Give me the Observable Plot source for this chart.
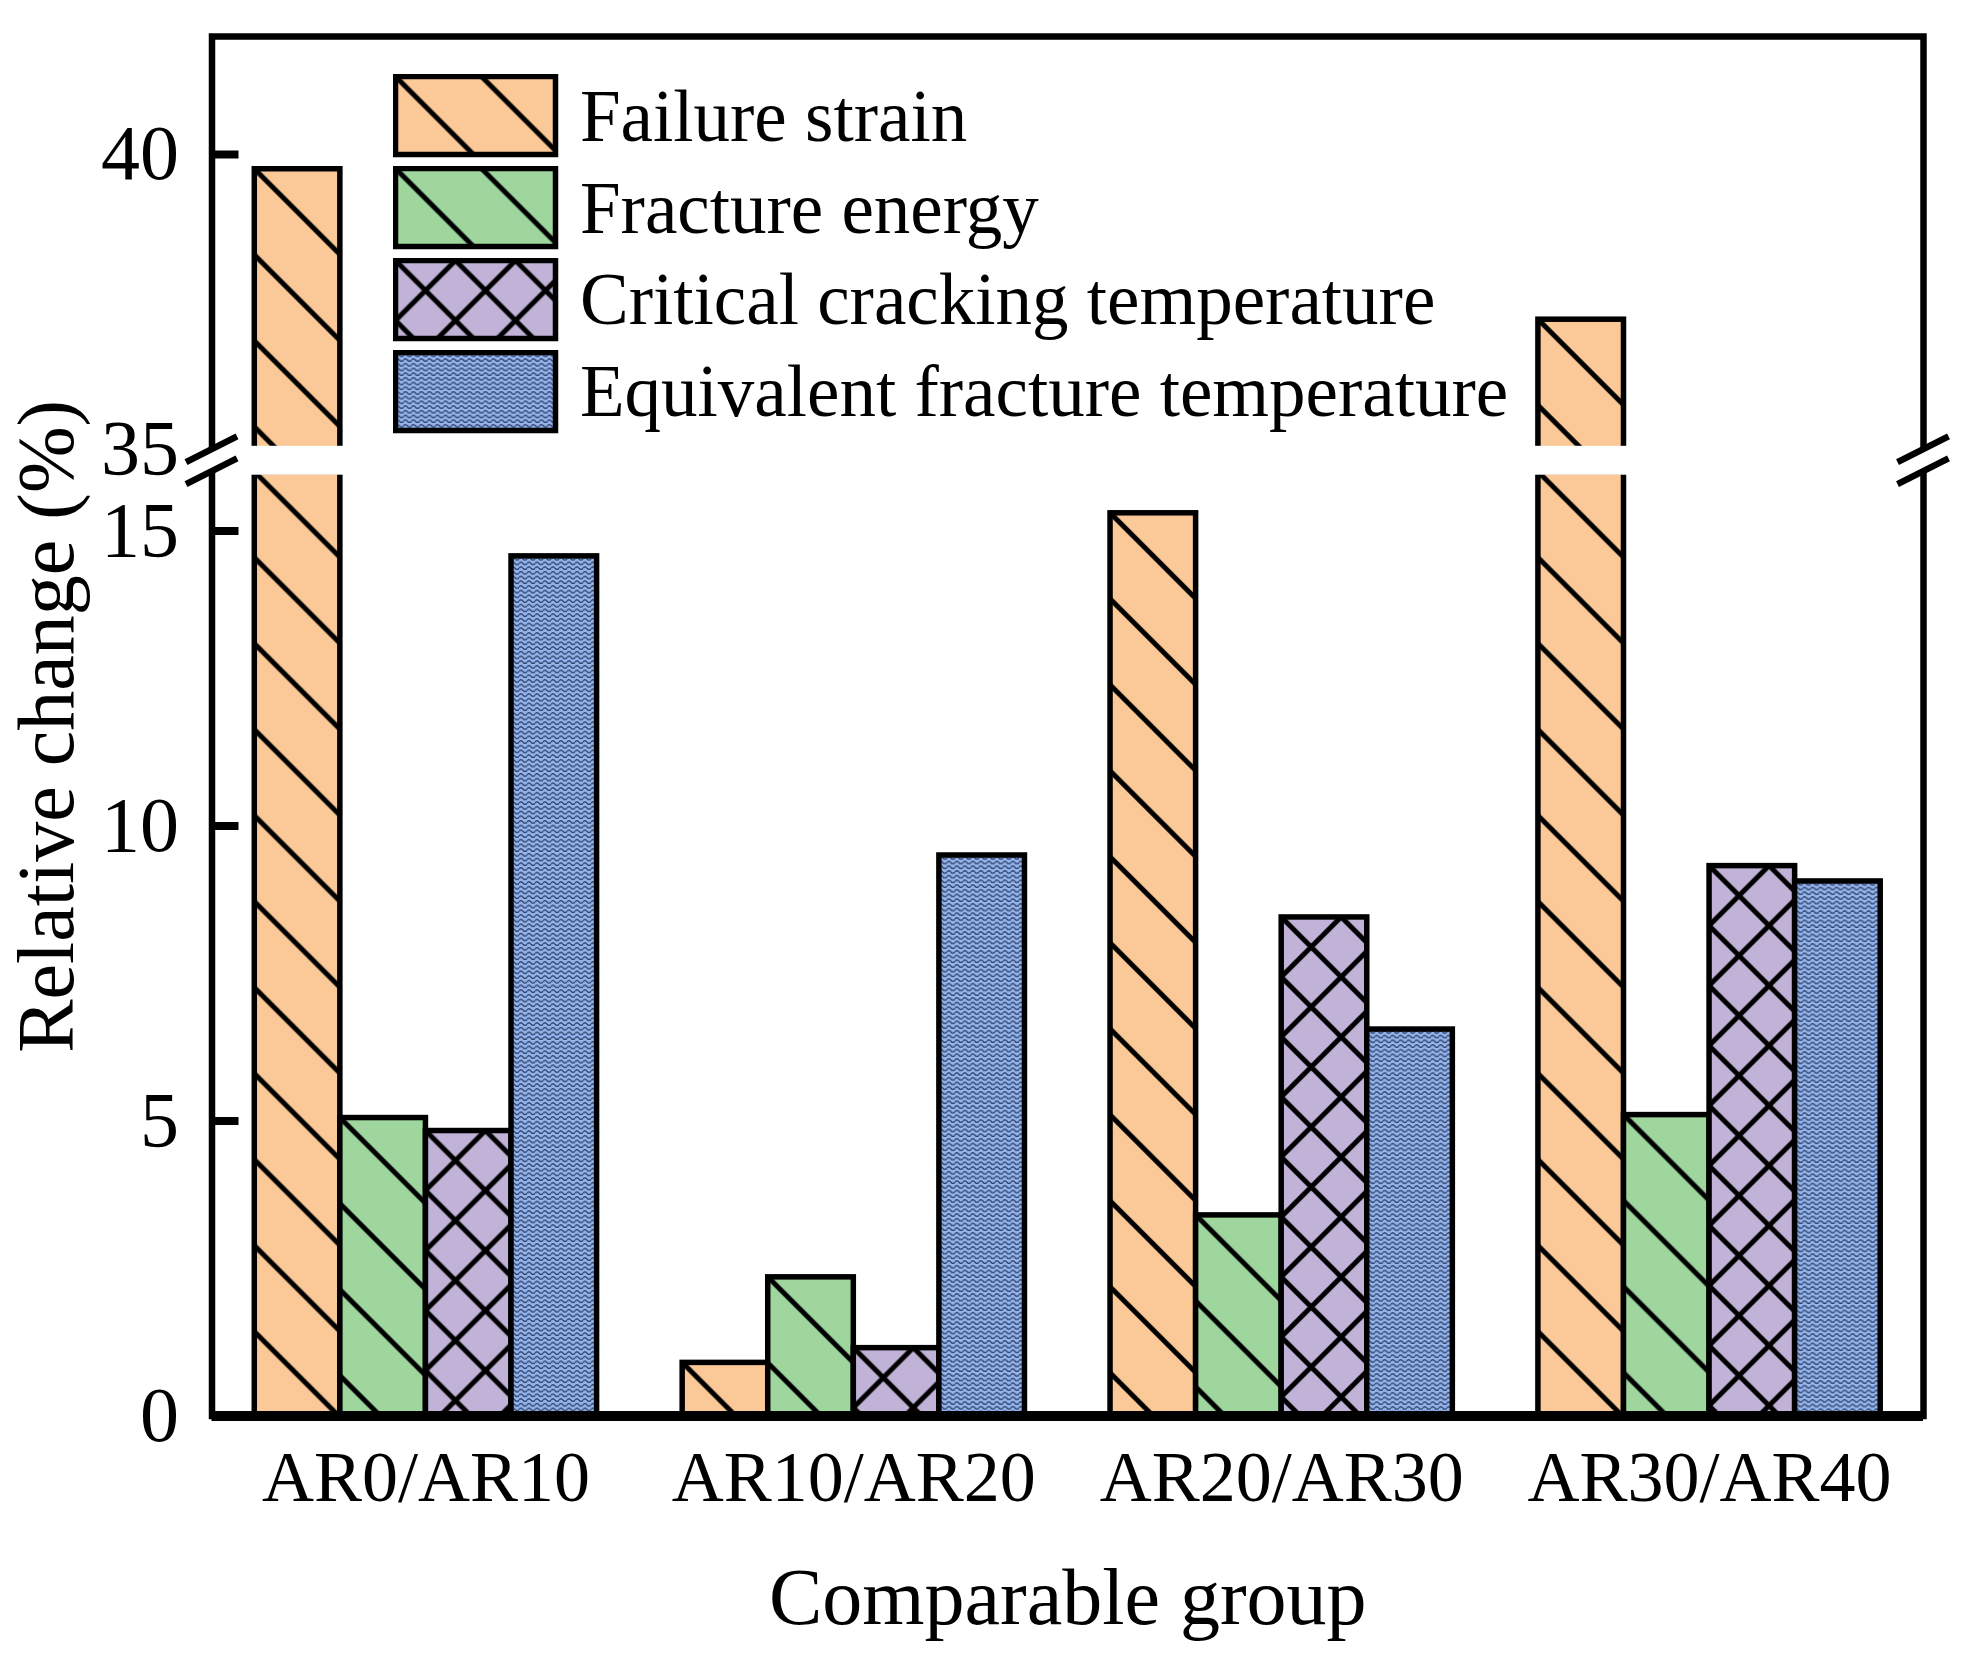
<!DOCTYPE html>
<html>
<head>
<meta charset="utf-8">
<script src="https://cdn.jsdelivr.net/npm/d3@7"></script>
<script src="https://cdn.jsdelivr.net/npm/@observablehq/plot@0.6"></script>
<style>
  html, body { margin: 0; padding: 0; background: #fff; }
  #wrap { position: relative; width: 1965px; height: 1659px; font-family: "Liberation Serif", "Times New Roman", serif; color: #000; }
  #chart { position: absolute; left: 0; top: 0; }
  #legend { position: absolute; left: 393px; top: 70.6px; }
  .row { height: 91.7px; display: flex; align-items: center; }
  .row svg { display: block; }
  .row span { margin-left: 21px; font-size: 73px; line-height: 1; white-space: nowrap; }
</style>
</head>
<body>
<div id="wrap"><div id="chart"></div><div id="legend"></div></div>
<script>
// ---- data ----
const groups = ["AR0/AR10", "AR10/AR20", "AR20/AR30", "AR30/AR40"];
const series = ["Failure strain", "Fracture energy", "Critical cracking temperature", "Equivalent fracture temperature"];
const failureStrain  = [39.75, 0.9, 15.3, 37.2];
const fractureEnergy = [5.05, 2.35, 3.4, 5.1];
const criticalTemp   = [4.83, 1.15, 8.45, 9.32];
const equivalentTemp = [14.57, 9.5, 6.55, 9.06];
const yTicks = [0, 5, 10, 15, 35, 40];
const yTickMarks = [5, 10, 15, 40];
const breakLow = 16, breakHigh = 35, yMax = 42;

// ---- styles ----
const fills = [
  {color: "#FBC997", hatch: "back", size: 86},
  {color: "#9ED69D", hatch: "back", size: 86},
  {color: "#C1B3D8", hatch: "cross", size: 60},
  {color: "#92B3EB", hatch: "wave", w: 8, h: 4.7, ink: "#2F4068"}
];

function addPattern(defs, id, st, x0, y0) {
  if (st.hatch === "wave") {
    const p = defs.append("pattern").attr("id", id).attr("patternUnits", "userSpaceOnUse")
      .attr("x", x0).attr("y", y0).attr("width", st.w).attr("height", st.h);
    p.append("rect").attr("width", st.w).attr("height", st.h).attr("fill", st.color);
    p.append("path")
      .attr("d", `M0,${st.h * 0.62} Q${st.w / 4},${st.h * 0.05} ${st.w / 2},${st.h * 0.62} T${st.w},${st.h * 0.62}`)
      .attr("fill", "none").attr("stroke", st.ink).attr("stroke-width", 1.35);
    return;
  }
  const s = st.size;
  const p = defs.append("pattern").attr("id", id).attr("patternUnits", "userSpaceOnUse")
    .attr("x", x0).attr("y", y0).attr("width", s).attr("height", s);
  p.append("rect").attr("width", s).attr("height", s).attr("fill", st.color);
  let d = `M0,0L${s},${s}M${s / 2},${-s / 2}L${1.5 * s},${s / 2}M${-s / 2},${s / 2}L${s / 2},${1.5 * s}`;
  if (st.hatch === "cross") {
    d += `M0,${s}L${s},0M${-s / 2},${s / 2}L${s / 2},${-s / 2}M${s / 2},${1.5 * s}L${1.5 * s},${s / 2}`;
  }
  p.append("path").attr("d", d).attr("fill", "none").attr("stroke", "#000").attr("stroke-width", 5);
}

// ---- table of bar segments (bars taller than the break are split) ----
const values = [failureStrain, fractureEnergy, criticalTemp, equivalentTemp];
const barWidth = 0.2, groupWidth = 0.8;
const segments = [];
values.forEach((vals, si) => vals.forEach((v, gi) => {
  const parts = v > breakLow ? [[0, breakLow], [breakHigh, v]] : [[0, v]];
  for (const [lo, hi] of parts) {
    const x1 = gi - groupWidth / 2 + barWidth * si;
    segments.push({gi, si, lo, hi, x1, x2: x1 + barWidth, id: `bar-pat-${segments.length}`});
  }
}));

// ---- layout ----
const W = 1965, H = 1659;
const margin = {top: 36, right: 42, bottom: 243.5, left: 211.5};
const gapPx = 22.5;
const plotH = H - margin.top - margin.bottom;
const plotW = W - margin.left - margin.right;
const unit = (plotH - gapPx) / ((breakLow - 0) + (yMax - breakHigh));
const yBottom = H - margin.bottom;
const yRange = [yBottom, yBottom - breakLow * unit, yBottom - breakLow * unit - gapPx, margin.top];
const xDomain = [-0.5, groups.length - 0.5];
const tickLen = 27;

function patternDefs(index, scales) {
  const defs = d3.create("svg:defs");
  for (const s of segments) addPattern(defs, s.id, fills[s.si], scales.x(s.x1), scales.y(s.hi));
  return defs.node();
}

function breakMarks(index, scales, values, dims) {
  const yc = (scales.y(breakLow) + scales.y(breakHigh)) / 2;
  const hw = 25.5, rise = 12.8, off = 11;
  const g = d3.create("svg:g");
  for (const x of [dims.marginLeft, dims.width - dims.marginRight]) {
    g.append("path")
      .attr("d", `M${x - hw},${yc + off + rise}L${x + hw},${yc + off - rise}L${x + hw},${yc - off - rise}L${x - hw},${yc - off + rise}Z`)
      .attr("fill", "#fff");
    for (const o of [-off, off]) {
      g.append("line")
        .attr("x1", x - hw).attr("y1", yc + o + rise)
        .attr("x2", x + hw).attr("y2", yc + o - rise)
        .attr("stroke", "#000").attr("stroke-width", 6.5);
    }
  }
  return g.node();
}

const chart = Plot.plot({
  width: W,
  height: H,
  marginTop: margin.top,
  marginRight: margin.right,
  marginBottom: margin.bottom,
  marginLeft: margin.left,
  style: {background: "#fff", fontFamily: "'Liberation Serif', 'Times New Roman', serif", color: "#000", overflow: "visible"},
  x: {type: "linear", domain: xDomain, axis: null},
  y: {type: "linear", domain: [0, breakLow, breakHigh, yMax], range: yRange, axis: null},
  color: {type: "identity"},
  marks: [
    patternDefs,
    Plot.rect(segments, {
      x1: "x1", x2: "x2", y1: "lo", y2: "hi",
      fill: d => `url(#${d.id})`,
      stroke: "#000", strokeWidth: 5.5
    }),
    Plot.rect([0], {
      x1: () => xDomain[0], x2: () => xDomain[1], y1: () => breakLow, y2: () => breakHigh,
      fill: "#fff", insetTop: -3.2, insetBottom: -3.2, insetLeft: 4, insetRight: 4
    }),
    Plot.frame({stroke: "#000", strokeWidth: 6.5}),
    Plot.ruleY([0], {stroke: "#000", strokeWidth: 10}),
    Plot.tickY(yTickMarks, {y: d => d, stroke: "#000", strokeWidth: 8, insetRight: plotW - tickLen}),
    Plot.axisY(yTicks, {anchor: "left", tickSize: 0, tickPadding: 33, fontSize: 78, label: null}),
    Plot.axisX(d3.range(groups.length), {anchor: "bottom", tickSize: 0, tickPadding: 34, tickFormat: i => groups[i], fontSize: 72, label: null}),
    breakMarks,
    Plot.text(["Comparable group"], {frameAnchor: "bottom", dy: 207.5, fontSize: 80, lineAnchor: "bottom", textAnchor: "middle"}),
    Plot.text(["Relative change (%)"], {frameAnchor: "left", rotate: -90, dx: -139.5, fontSize: 80, lineAnchor: "bottom", textAnchor: "middle"})
  ]
});
document.getElementById("chart").appendChild(chart);

// ---- legend ----
const legend = d3.select("#legend");
series.forEach((name, i) => {
  const row = legend.append("div").attr("class", "row");
  const svg = row.append("svg").attr("width", 166).attr("height", 84);
  const defs = svg.append("defs");
  addPattern(defs, `leg-pat-${i}`, fills[i], 2.5, 2.5);
  svg.append("rect").attr("x", 2.5).attr("y", 2.5).attr("width", 160).attr("height", 78)
    .attr("fill", `url(#leg-pat-${i})`).attr("stroke", "#000").attr("stroke-width", 5.5);
  row.append("span").text(name);
});
</script>
</body>
</html>
